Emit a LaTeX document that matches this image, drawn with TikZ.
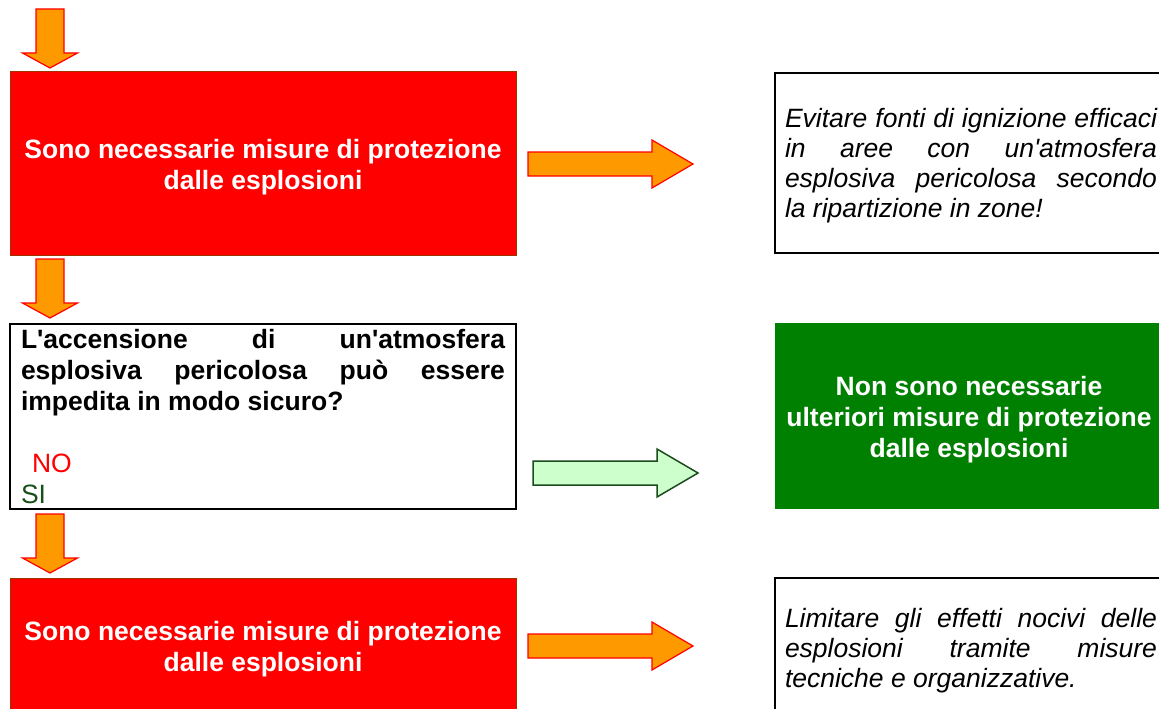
\documentclass[tikz,border=0pt]{standalone}
\usepackage{fontspec}
\setmainfont{Liberation Sans}[Ligatures=TeXOff]
\newcommand\bigfs{\fontsize{26.5}{31}\selectfont}
\newcommand\itfs{\fontsize{26.5}{30.3}\selectfont}
\definecolor{boxbrown}{RGB}{160,50,0}
\definecolor{arrorange}{RGB}{255,153,0}
\definecolor{arrgreen}{RGB}{204,255,204}
\definecolor{arrgreendark}{RGB}{30,75,30}
\definecolor{boxgreen}{RGB}{0,128,0}
\definecolor{sigreen}{RGB}{25,80,25}
\begin{document}
\begin{tikzpicture}[x=1pt,y=-1pt,
  boxbase/.style={anchor=north west,inner sep=0,outer sep=0},
  redbox/.style={boxbase,draw=boxbrown,line width=1pt,fill=red},
  whitebox/.style={boxbase,draw=black,line width=2pt,fill=white},
  greenbox/.style={boxbase,fill=boxgreen},
  boxtext/.style={inner sep=0,outer sep=0},
  orangearrow/.style={fill=arrorange,draw=red,line width=1.2pt,line join=miter},
  greenarrow/.style={fill=arrgreen,draw=arrgreendark,line width=1.5pt,line join=miter},
  downarr/.pic={\path[pic actions] (-14,0) -- (14,0) -- (14,44) -- (27.5,44) -- (0,59) -- (-27.5,44) -- (-14,44) -- cycle;},
  rightarr/.pic={\path[pic actions] (0,-12) -- (124,-12) -- (124,-24) -- (165,0) -- (124,24) -- (124,12) -- (0,12) -- cycle;}
]
\useasboundingbox[fill=white] (0,0) rectangle (1159,709);
\begin{scope}
\clip (0,0) rectangle (1159,709);

% boxes
\node[redbox,minimum width=506pt,minimum height=183pt] (r1) at (10,72) {};
\node[whitebox,minimum width=506pt,minimum height=185pt] (q) at (10,324) {};
\node[redbox,minimum width=506pt,minimum height=182pt] (r3) at (10,578) {};
\node[whitebox,minimum width=392pt,minimum height=180pt] (e1) at (775,73) {};
\node[greenbox,minimum width=392pt,minimum height=186pt] (g) at (775,323) {};
\node[whitebox,minimum width=392pt,minimum height=145pt] (e3) at (775,578) {};

% block arrows
\pic[orangearrow] (d1) at (50,9) {downarr};
\pic[orangearrow] (d2) at (50,259) {downarr};
\pic[orangearrow] (d3) at (50,514) {downarr};
\pic[orangearrow] (h1) at (528,164) {rightarr};
\pic[greenarrow] (h2) at (533,473) {rightarr};
\pic[orangearrow] (h3) at (528,646) {rightarr};

% texts
\node[boxtext,anchor=base,text=white] (r1t) at (263,158)
  {\parbox[t]{500pt}{\centering\bfseries\bigfs Sono necessarie misure di protezione\\dalle esplosioni}};
\node[boxtext,anchor=base,text=white] (r3t) at (263,640)
  {\parbox[t]{500pt}{\centering\bfseries\bigfs Sono necessarie misure di protezione\\dalle esplosioni}};
\node[boxtext,anchor=base west] (qt) at (21,348)
  {\parbox[t]{484pt}{\bigfs\bfseries
   \makebox[484pt][s]{L'accensione di un'atmosfera}\\
   \makebox[484pt][s]{esplosiva pericolosa può essere}\\
   impedita in modo sicuro?\\[31pt]
   \mdseries\hspace*{11pt}\textcolor{red}{NO}\\
   \textcolor{sigreen}{SI}}};
\node[boxtext,anchor=base,text=white] (gt) at (969,395)
  {\parbox[t]{384pt}{\centering\bfseries\bigfs Non sono necessarie\\ulteriori misure di protezione\\dalle esplosioni}};
\node[boxtext,anchor=base west] (e1t) at (785,127)
  {\parbox[t]{372pt}{\itfs\itshape
   \makebox[372pt][s]{Evitare fonti di ignizione efficaci}\\
   \makebox[372pt][s]{in aree con un'atmosfera}\\
   \makebox[372pt][s]{esplosiva pericolosa secondo}\\
   la ripartizione in zone!}};
\node[boxtext,anchor=base west] (e3t) at (785,627)
  {\parbox[t]{372pt}{\itfs\itshape
   \makebox[372pt][s]{Limitare gli effetti nocivi delle}\\
   \makebox[372pt][s]{esplosioni tramite misure}\\
   tecniche e organizzative.}};
\end{scope}
\end{tikzpicture}
\end{document}
